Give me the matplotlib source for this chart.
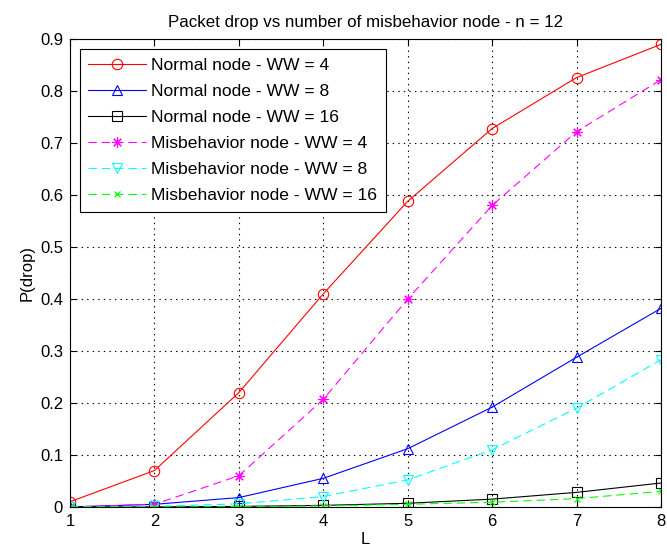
import numpy as np
import matplotlib
matplotlib.use("Agg")
import matplotlib.pyplot as plt

plt.rcParams['font.family'] = ['Liberation Sans', 'DejaVu Sans']
plt.rcParams['lines.scale_dashes'] = False

L = [1, 2, 3, 4, 5, 6, 7, 8]

normal_ww4 = [0.01, 0.07, 0.22, 0.41, 0.588, 0.728, 0.826, 0.89]
normal_ww8 = [0.0, 0.005, 0.018, 0.055, 0.112, 0.192, 0.288, 0.382]
normal_ww16 = [0.0, 0.0, 0.001, 0.003, 0.007, 0.015, 0.028, 0.046]
misb_ww4 = [0.0, 0.005, 0.06, 0.207, 0.40, 0.58, 0.722, 0.822]
misb_ww8 = [0.0, 0.001, 0.006, 0.02, 0.052, 0.11, 0.19, 0.283]
misb_ww16 = [0.0, 0.0, 0.0005, 0.002, 0.005, 0.009, 0.016, 0.03]

# (values, label, colour, marker, marker size, dashed)
series = [
    (normal_ww4, 'Normal node - WW = 4', '#ff0000', 'o', 7.5, False),
    (normal_ww8, 'Normal node - WW = 8', '#0000ff', '^', 7.5, False),
    (normal_ww16, 'Normal node - WW = 16', '#000000', 's', 7.5, False),
    (misb_ww4, 'Misbehavior node - WW = 4', '#ff00ff', (8, 2, 0), 7.5, True),
    (misb_ww8, 'Misbehavior node - WW = 8', '#00ffff', 'v', 7.5, True),
    (misb_ww16, 'Misbehavior node - WW = 16', '#00ff00', 'x', 5, True),
]

fig = plt.figure(figsize=(6.67, 5.51), dpi=100)
ax = fig.add_axes([0.105, 0.080, 0.886, 0.849])

for y, label, c, m, ms, dashed in series:
    line, = ax.plot(L, y, color=c, marker=m, markersize=ms,
                    markerfacecolor='none', markeredgecolor=c, linewidth=0.8,
                    markeredgewidth=0.8, label=label)
    if dashed:
        line.set_dashes((6, 3.6))

ax.set_xlim(1, 8)
ax.set_ylim(0, 0.9)
ax.set_xticks(L)
ax.set_yticks(np.arange(0, 0.91, 0.1))
ax.set_yticklabels(['0', '0.1', '0.2', '0.3', '0.4', '0.5', '0.6', '0.7', '0.8', '0.9'])
ax.grid(True, color='k', linestyle=(0, (1, 3)), linewidth=0.8)
ax.tick_params(direction='in', labelsize=12, length=4, width=0.8,
               top=True, right=True, pad=5)
for s in ax.spines.values():
    s.set_linewidth(0.8)
ax.set_xlabel('L', fontsize=12, labelpad=2)
ax.set_ylabel('P(drop)', fontsize=12, labelpad=4)
ax.set_title('Packet drop vs number of misbehavior node - n = 12', fontsize=12.2, pad=9)

leg = ax.legend(loc='upper left', fontsize=12.6, fancybox=False, framealpha=1,
                edgecolor='k', handlelength=3.3, handletextpad=0.3,
                borderpad=0.5, labelspacing=0.62, borderaxespad=0.55)
leg.get_frame().set_linewidth(0.8)

fig.savefig('out.png', dpi=100)
